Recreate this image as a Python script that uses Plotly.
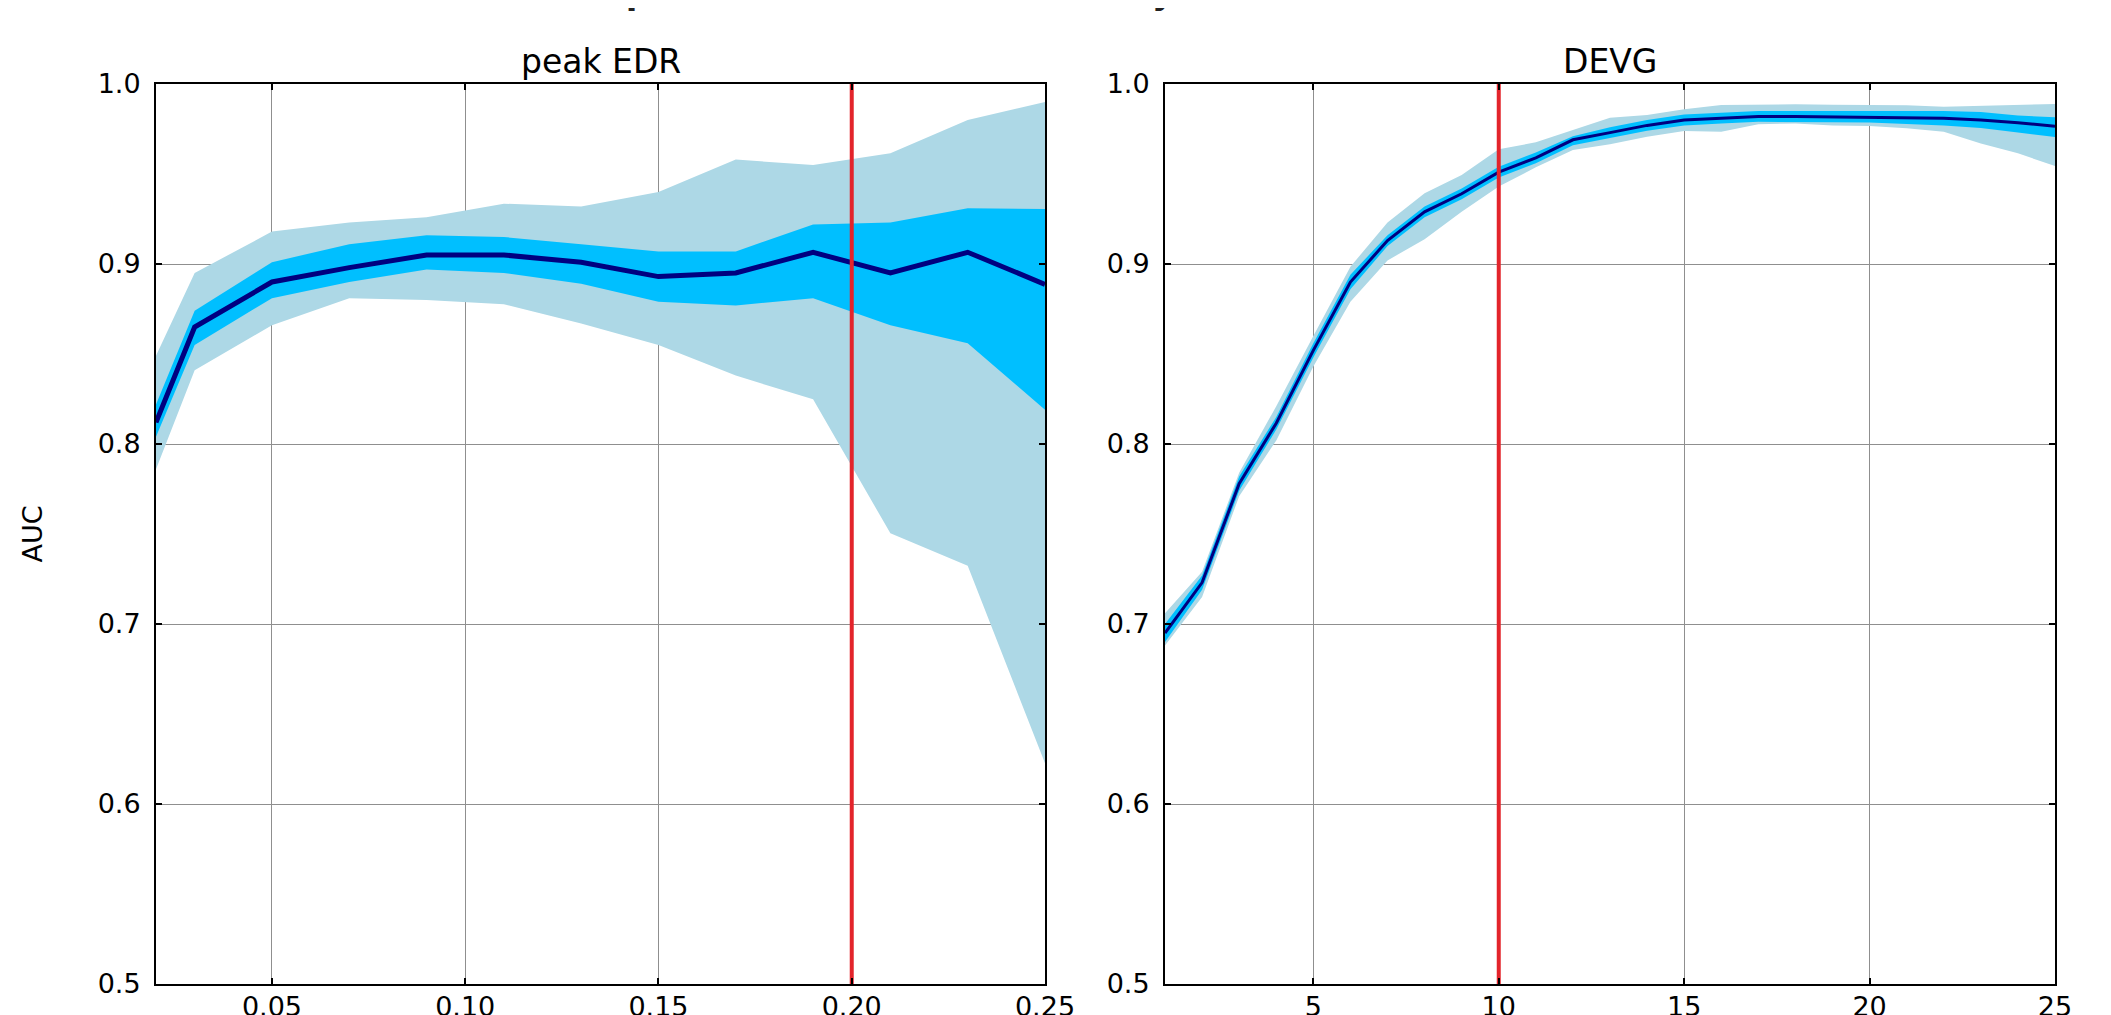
import plotly.graph_objects as go

# ---------------- data ----------------
edr_x = [0.02, 0.03, 0.05, 0.07, 0.09, 0.11, 0.13, 0.15, 0.17, 0.19, 0.21, 0.23, 0.25]
edr_mean = [0.812, 0.865, 0.890, 0.898, 0.905, 0.905, 0.901, 0.893, 0.895, 0.9065, 0.895, 0.9065, 0.8887]
edr_in_hi = [0.822, 0.874, 0.901, 0.911, 0.916, 0.915, 0.911, 0.907, 0.907, 0.922, 0.923, 0.931, 0.9305]
edr_in_lo = [0.804, 0.855, 0.881, 0.890, 0.897, 0.895, 0.889, 0.879, 0.877, 0.881, 0.866, 0.856, 0.819]
edr_out_hi = [0.849, 0.895, 0.918, 0.923, 0.926, 0.9335, 0.932, 0.940, 0.958, 0.955, 0.9615, 0.980, 0.990]
edr_out_lo = [0.786, 0.841, 0.866, 0.881, 0.880, 0.8776, 0.867, 0.855, 0.838, 0.8248, 0.7504, 0.7324, 0.6226]
edr_marker = 0.20

devg_x = list(range(1, 26))
devg_mean = [0.695, 0.723, 0.778, 0.8115, 0.852, 0.890, 0.913, 0.929, 0.939, 0.951, 0.959, 0.969,
             0.973, 0.977, 0.980, 0.981, 0.982, 0.982, 0.9818, 0.9817, 0.9815, 0.981, 0.980, 0.9785, 0.9765]
devg_in_hi = [0.700, 0.727, 0.782, 0.815, 0.856, 0.894, 0.916, 0.932, 0.942, 0.954, 0.962, 0.971,
              0.976, 0.980, 0.983, 0.984, 0.985, 0.985, 0.985, 0.985, 0.985, 0.985, 0.9845, 0.9825, 0.9815]
devg_in_lo = [0.690, 0.719, 0.774, 0.808, 0.848, 0.886, 0.910, 0.926, 0.936, 0.948, 0.956, 0.966,
              0.970, 0.974, 0.977, 0.978, 0.979, 0.979, 0.9788, 0.9786, 0.978, 0.977, 0.9755, 0.973, 0.9705]
devg_out_hi = [0.706, 0.729, 0.784, 0.821, 0.860, 0.8985, 0.923, 0.9393, 0.9494, 0.9637, 0.9676, 0.9744,
               0.9813, 0.9828, 0.986, 0.9883, 0.9887, 0.9887, 0.9885, 0.9885, 0.9882, 0.9874, 0.988, 0.9887, 0.9889]
devg_out_lo = [0.688, 0.715, 0.771, 0.802, 0.843, 0.879, 0.902, 0.9137, 0.929, 0.943, 0.9537, 0.9633,
               0.9665, 0.9707, 0.9739, 0.9735, 0.9777, 0.978, 0.977, 0.9767, 0.9754, 0.9735, 0.967, 0.9615, 0.9544]
devg_marker = 10

y_ticks = [0.5, 0.6, 0.7, 0.8, 0.9, 1.0]
edr_ticks = [0.05, 0.10, 0.15, 0.20, 0.25]
devg_ticks = [5, 10, 15, 20, 25]

panel_titles = ["peak EDR", "DEVG"]
y_label = "AUC"
suptitle = "AUC performance on test data by feature and window"

# ---------------- figure ----------------
W, H = 2111, 1015
OFF = 8  # page offset of the plot inside the browser window
FONT = "DejaVu Sans"
ML, MR, MT, MB = 156 - OFF, 56 + OFF, 84 - OFF, 31 + OFF
PW = W - ML - MR
PH = H - MT - MB
fig = go.Figure()


def band(x, hi, lo, color, xa, ya):
    fig.add_trace(go.Scatter(x=list(x) + list(x)[::-1], y=list(hi) + list(lo)[::-1],
                             fill="toself", fillcolor=color, line=dict(width=0),
                             mode="lines", hoverinfo="skip", showlegend=False,
                             xaxis=xa, yaxis=ya))


band(edr_x, edr_out_hi, edr_out_lo, "#ADD8E6", "x", "y")
band(edr_x, edr_in_hi, edr_in_lo, "#00BFFF", "x", "y")
fig.add_trace(go.Scatter(x=edr_x, y=edr_mean, mode="lines", line=dict(color="#000080", width=5),
                         showlegend=False, xaxis="x", yaxis="y"))
fig.add_trace(go.Scatter(x=[edr_marker, edr_marker], y=[0.5, 1.0], mode="lines",
                         line=dict(color="#e3242b", width=4), showlegend=False, xaxis="x", yaxis="y"))

band(devg_x, devg_out_hi, devg_out_lo, "#ADD8E6", "x2", "y2")
band(devg_x, devg_in_hi, devg_in_lo, "#00BFFF", "x2", "y2")
fig.add_trace(go.Scatter(x=devg_x, y=devg_mean, mode="lines", line=dict(color="#000080", width=3),
                         showlegend=False, xaxis="x2", yaxis="y2"))
fig.add_trace(go.Scatter(x=[devg_marker, devg_marker], y=[0.5, 1.0], mode="lines",
                         line=dict(color="#e3242b", width=4), showlegend=False, xaxis="x2", yaxis="y2"))

D1 = [0, (1045 - 156) / PW]
D2 = [(1165 - 156) / PW, 1]

axis_common = dict(showline=True, linecolor="black", linewidth=2, mirror="ticks",
                   ticks="inside", ticklen=6, tickwidth=1.5, tickcolor="black",
                   showgrid=True, gridcolor="#8f8f8f", gridwidth=1, zeroline=False,
                   automargin=False,
                   tickfont=dict(family=FONT, size=27, color="black"))

fig.update_layout(
    width=W, height=H,
    margin=dict(l=ML, r=MR, t=MT, b=MB, autoexpand=False),
    paper_bgcolor="white", plot_bgcolor="white",
    font=dict(family=FONT, color="black"),
    xaxis=dict(domain=D1, range=[0.02, 0.25], tickvals=edr_ticks, tickformat=".2f",
               anchor="y", ticklabelstandoff=-2, **axis_common),
    yaxis=dict(domain=[0, 1], range=[0.5, 1.0], tickvals=y_ticks, tickformat=".1f",
               anchor="x", ticklabelstandoff=8,
               title=dict(text=y_label, font=dict(family=FONT, size=27, color="black"), standoff=47),
               **axis_common),
    xaxis2=dict(domain=D2, range=[1, 25], tickvals=devg_ticks, tickformat="d",
                anchor="y2", ticklabelstandoff=-2, **axis_common),
    yaxis2=dict(domain=[0, 1], range=[0.5, 1.0], tickvals=y_ticks, tickformat=".1f",
                anchor="x2", ticklabelstandoff=8, **axis_common),
)

for d, t in zip([D1, D2], panel_titles):
    fig.add_annotation(x=(d[0] + d[1]) / 2, y=1 + 1 / PH, xref="paper", yref="paper",
                       xanchor="center", yanchor="bottom", showarrow=False,
                       text=t, font=dict(family=FONT, size=33, color="black"))

# figure-level title, mostly above the visible page (as in the reference)
fig.add_annotation(x=896 / PW, y=1 + (MT - 6) / PH, xref="paper", yref="paper",
                   xanchor="center", yanchor="bottom", showarrow=False,
                   text="<b>" + suptitle + "</b>", font=dict(family=FONT, size=34, color="#222222"))

fig.write_html("out.html")
